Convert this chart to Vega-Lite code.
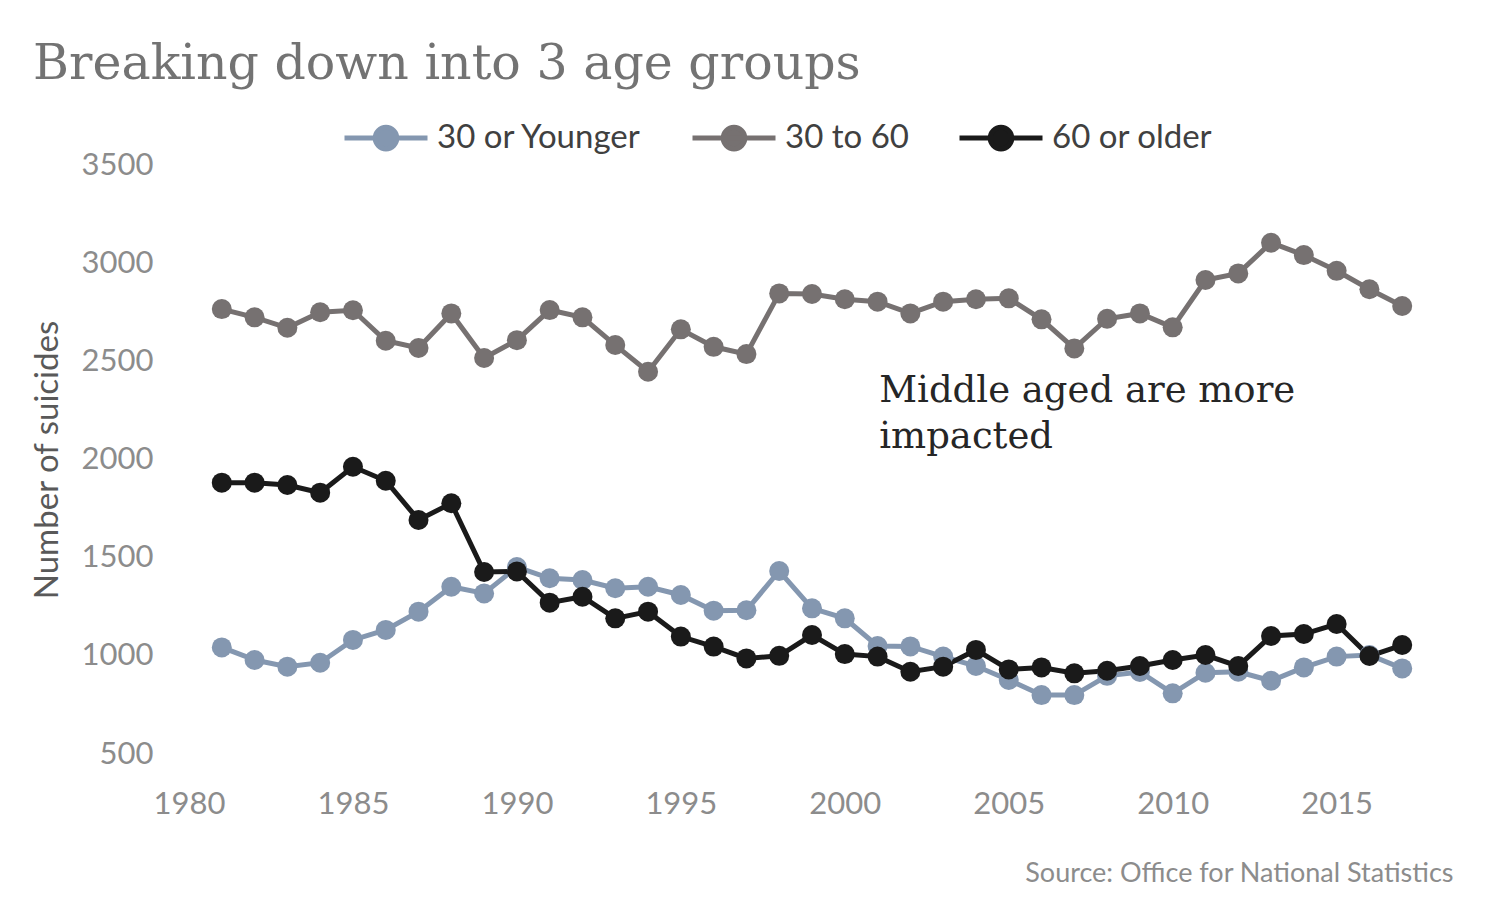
{
  "$schema": "https://vega.github.io/schema/vega-lite/v6.json",
  "width": 1246,
  "height": 589,
  "autosize": {"type": "none"},
  "padding": {"left": 189, "top": 165, "right": 65, "bottom": 146},
  "background": "white",
  "title": {
    "text": "Breaking down into 3 age groups",
    "anchor": "start",
    "frame": "group",
    "font": "DejaVu Serif",
    "fontSize": 49,
    "fontWeight": "normal",
    "color": "#737373",
    "dx": -156,
    "offset": 5
  },
  "config": {
    "view": {"stroke": null},
    "font": "Lato"
  },
  "datasets": {
    "suicides": [
      {"year": 1981, "group": "30 or Younger", "n": 1043},
      {"year": 1982, "group": "30 or Younger", "n": 979},
      {"year": 1983, "group": "30 or Younger", "n": 945},
      {"year": 1984, "group": "30 or Younger", "n": 965},
      {"year": 1985, "group": "30 or Younger", "n": 1081},
      {"year": 1986, "group": "30 or Younger", "n": 1132},
      {"year": 1987, "group": "30 or Younger", "n": 1225},
      {"year": 1988, "group": "30 or Younger", "n": 1352},
      {"year": 1989, "group": "30 or Younger", "n": 1318},
      {"year": 1990, "group": "30 or Younger", "n": 1452},
      {"year": 1991, "group": "30 or Younger", "n": 1395},
      {"year": 1992, "group": "30 or Younger", "n": 1386},
      {"year": 1993, "group": "30 or Younger", "n": 1344},
      {"year": 1994, "group": "30 or Younger", "n": 1352},
      {"year": 1995, "group": "30 or Younger", "n": 1310},
      {"year": 1996, "group": "30 or Younger", "n": 1230},
      {"year": 1997, "group": "30 or Younger", "n": 1232},
      {"year": 1998, "group": "30 or Younger", "n": 1432},
      {"year": 1999, "group": "30 or Younger", "n": 1242},
      {"year": 2000, "group": "30 or Younger", "n": 1191},
      {"year": 2001, "group": "30 or Younger", "n": 1050},
      {"year": 2002, "group": "30 or Younger", "n": 1048},
      {"year": 2003, "group": "30 or Younger", "n": 996},
      {"year": 2004, "group": "30 or Younger", "n": 948},
      {"year": 2005, "group": "30 or Younger", "n": 877},
      {"year": 2006, "group": "30 or Younger", "n": 800},
      {"year": 2007, "group": "30 or Younger", "n": 800},
      {"year": 2008, "group": "30 or Younger", "n": 898},
      {"year": 2009, "group": "30 or Younger", "n": 918},
      {"year": 2010, "group": "30 or Younger", "n": 809},
      {"year": 2011, "group": "30 or Younger", "n": 914},
      {"year": 2012, "group": "30 or Younger", "n": 919},
      {"year": 2013, "group": "30 or Younger", "n": 873},
      {"year": 2014, "group": "30 or Younger", "n": 941},
      {"year": 2015, "group": "30 or Younger", "n": 996},
      {"year": 2016, "group": "30 or Younger", "n": 1004},
      {"year": 2017, "group": "30 or Younger", "n": 936},
      {"year": 1981, "group": "30 to 60", "n": 2766},
      {"year": 1982, "group": "30 to 60", "n": 2724},
      {"year": 1983, "group": "30 to 60", "n": 2671},
      {"year": 1984, "group": "30 to 60", "n": 2750},
      {"year": 1985, "group": "30 to 60", "n": 2760},
      {"year": 1986, "group": "30 to 60", "n": 2605},
      {"year": 1987, "group": "30 to 60", "n": 2568},
      {"year": 1988, "group": "30 to 60", "n": 2744},
      {"year": 1989, "group": "30 to 60", "n": 2517},
      {"year": 1990, "group": "30 to 60", "n": 2608},
      {"year": 1991, "group": "30 to 60", "n": 2761},
      {"year": 1992, "group": "30 to 60", "n": 2724},
      {"year": 1993, "group": "30 to 60", "n": 2583},
      {"year": 1994, "group": "30 to 60", "n": 2447},
      {"year": 1995, "group": "30 to 60", "n": 2663},
      {"year": 1996, "group": "30 to 60", "n": 2574},
      {"year": 1997, "group": "30 to 60", "n": 2537},
      {"year": 1998, "group": "30 to 60", "n": 2846},
      {"year": 1999, "group": "30 to 60", "n": 2843},
      {"year": 2000, "group": "30 to 60", "n": 2816},
      {"year": 2001, "group": "30 to 60", "n": 2804},
      {"year": 2002, "group": "30 to 60", "n": 2744},
      {"year": 2003, "group": "30 to 60", "n": 2804},
      {"year": 2004, "group": "30 to 60", "n": 2816},
      {"year": 2005, "group": "30 to 60", "n": 2821},
      {"year": 2006, "group": "30 to 60", "n": 2714},
      {"year": 2007, "group": "30 to 60", "n": 2566},
      {"year": 2008, "group": "30 to 60", "n": 2717},
      {"year": 2009, "group": "30 to 60", "n": 2744},
      {"year": 2010, "group": "30 to 60", "n": 2673},
      {"year": 2011, "group": "30 to 60", "n": 2914},
      {"year": 2012, "group": "30 to 60", "n": 2948},
      {"year": 2013, "group": "30 to 60", "n": 3104},
      {"year": 2014, "group": "30 to 60", "n": 3041},
      {"year": 2015, "group": "30 to 60", "n": 2961},
      {"year": 2016, "group": "30 to 60", "n": 2867},
      {"year": 2017, "group": "30 to 60", "n": 2782},
      {"year": 1981, "group": "60 or older", "n": 1882},
      {"year": 1982, "group": "60 or older", "n": 1882},
      {"year": 1983, "group": "60 or older", "n": 1870},
      {"year": 1984, "group": "60 or older", "n": 1831},
      {"year": 1985, "group": "60 or older", "n": 1963},
      {"year": 1986, "group": "60 or older", "n": 1892},
      {"year": 1987, "group": "60 or older", "n": 1692},
      {"year": 1988, "group": "60 or older", "n": 1777},
      {"year": 1989, "group": "60 or older", "n": 1427},
      {"year": 1990, "group": "60 or older", "n": 1430},
      {"year": 1991, "group": "60 or older", "n": 1271},
      {"year": 1992, "group": "60 or older", "n": 1301},
      {"year": 1993, "group": "60 or older", "n": 1191},
      {"year": 1994, "group": "60 or older", "n": 1225},
      {"year": 1995, "group": "60 or older", "n": 1098},
      {"year": 1996, "group": "60 or older", "n": 1047},
      {"year": 1997, "group": "60 or older", "n": 987},
      {"year": 1998, "group": "60 or older", "n": 1000},
      {"year": 1999, "group": "60 or older", "n": 1106},
      {"year": 2000, "group": "60 or older", "n": 1009},
      {"year": 2001, "group": "60 or older", "n": 996},
      {"year": 2002, "group": "60 or older", "n": 919},
      {"year": 2003, "group": "60 or older", "n": 945},
      {"year": 2004, "group": "60 or older", "n": 1030},
      {"year": 2005, "group": "60 or older", "n": 931},
      {"year": 2006, "group": "60 or older", "n": 941},
      {"year": 2007, "group": "60 or older", "n": 911},
      {"year": 2008, "group": "60 or older", "n": 924},
      {"year": 2009, "group": "60 or older", "n": 948},
      {"year": 2010, "group": "60 or older", "n": 979},
      {"year": 2011, "group": "60 or older", "n": 1004},
      {"year": 2012, "group": "60 or older", "n": 948},
      {"year": 2013, "group": "60 or older", "n": 1101},
      {"year": 2014, "group": "60 or older", "n": 1111},
      {"year": 2015, "group": "60 or older", "n": 1162},
      {"year": 2016, "group": "60 or older", "n": 999},
      {"year": 2017, "group": "60 or older", "n": 1055}
    ],
    "note": [
      {"year": 2001.05, "n": 2294, "label": ["Middle aged are more", "impacted"]}
    ]
  },
  "layer": [
    {
      "data": {"name": "suicides"},
      "mark": {"type": "line", "strokeWidth": 5},
      "encoding": {
        "x": {
          "field": "year",
          "type": "quantitative",
          "scale": {"domain": [1980, 2018], "nice": false, "zero": false},
          "axis": {
            "values": [1980, 1985, 1990, 1995, 2000, 2005, 2010, 2015],
            "format": "d",
            "domain": false,
            "ticks": false,
            "grid": false,
            "labelFlush": false,
            "labelFont": "Lato",
            "labelFontSize": 31,
            "labelColor": "#8c8c8c",
            "labelPadding": 35,
            "title": "Source: Office for National Statistics",
            "titleFont": "Lato",
            "titleFontSize": 27,
            "titleFontWeight": "normal",
            "titleColor": "#8c8c8c",
            "titleAlign": "right",
            "titleBaseline": "middle",
            "titleX": 1264,
            "titleY": 119
          }
        },
        "y": {
          "field": "n",
          "type": "quantitative",
          "scale": {"domain": [500, 3500], "nice": false, "zero": false},
          "axis": {
            "values": [500, 1000, 1500, 2000, 2500, 3000, 3500],
            "format": "d",
            "domain": false,
            "ticks": false,
            "grid": false,
            "labelFont": "Lato",
            "labelFontSize": 31,
            "labelColor": "#8c8c8c",
            "labelPadding": 36,
            "title": "Number of suicides",
            "titleFont": "Lato",
            "titleFontSize": 33,
            "titleFontWeight": "normal",
            "titleColor": "#595959",
            "titlePadding": 17
          }
        },
        "color": {
          "field": "group",
          "type": "nominal",
          "scale": {
            "domain": ["30 or Younger", "30 to 60", "60 or older"],
            "range": ["#8497b0", "#767171", "#1a1a1a"]
          },
          "legend": {
            "orient": "none",
            "direction": "horizontal",
            "legendX": 153,
            "legendY": -71,
            "title": null,
            "symbolType": "M-1,0L1,0M-0.26,0A0.26,0.26 0 1,1 0.26,0A0.26,0.26 0 1,1 -0.26,0Z",
            "symbolSize": 6889,
            "symbolStrokeWidth": 5,
            "labelFont": "Lato",
            "labelFontSize": 33,
            "labelColor": "#404040",
            "labelLimit": 0,
            "labelOffset": 7,
            "columnPadding": 40,
            "encode": {
              "symbols": {
                "update": {
                  "fill": {"scale": "color", "field": "value"},
                  "stroke": {"scale": "color", "field": "value"},
                  "opacity": {"value": 1}
                }
              }
            }
          }
        }
      }
    },
    {
      "data": {"name": "suicides"},
      "mark": {"type": "point", "filled": true, "size": 400, "opacity": 1},
      "encoding": {
        "x": {"field": "year", "type": "quantitative"},
        "y": {"field": "n", "type": "quantitative"},
        "color": {"field": "group", "type": "nominal"}
      }
    },
    {
      "data": {"name": "note"},
      "mark": {
        "type": "text",
        "align": "left",
        "baseline": "alphabetic",
        "font": "DejaVu Serif",
        "fontSize": 37,
        "lineHeight": 46,
        "color": "#262626"
      },
      "encoding": {
        "x": {"field": "year", "type": "quantitative"},
        "y": {"field": "n", "type": "quantitative"},
        "text": {"field": "label"}
      }
    }
  ]
}
